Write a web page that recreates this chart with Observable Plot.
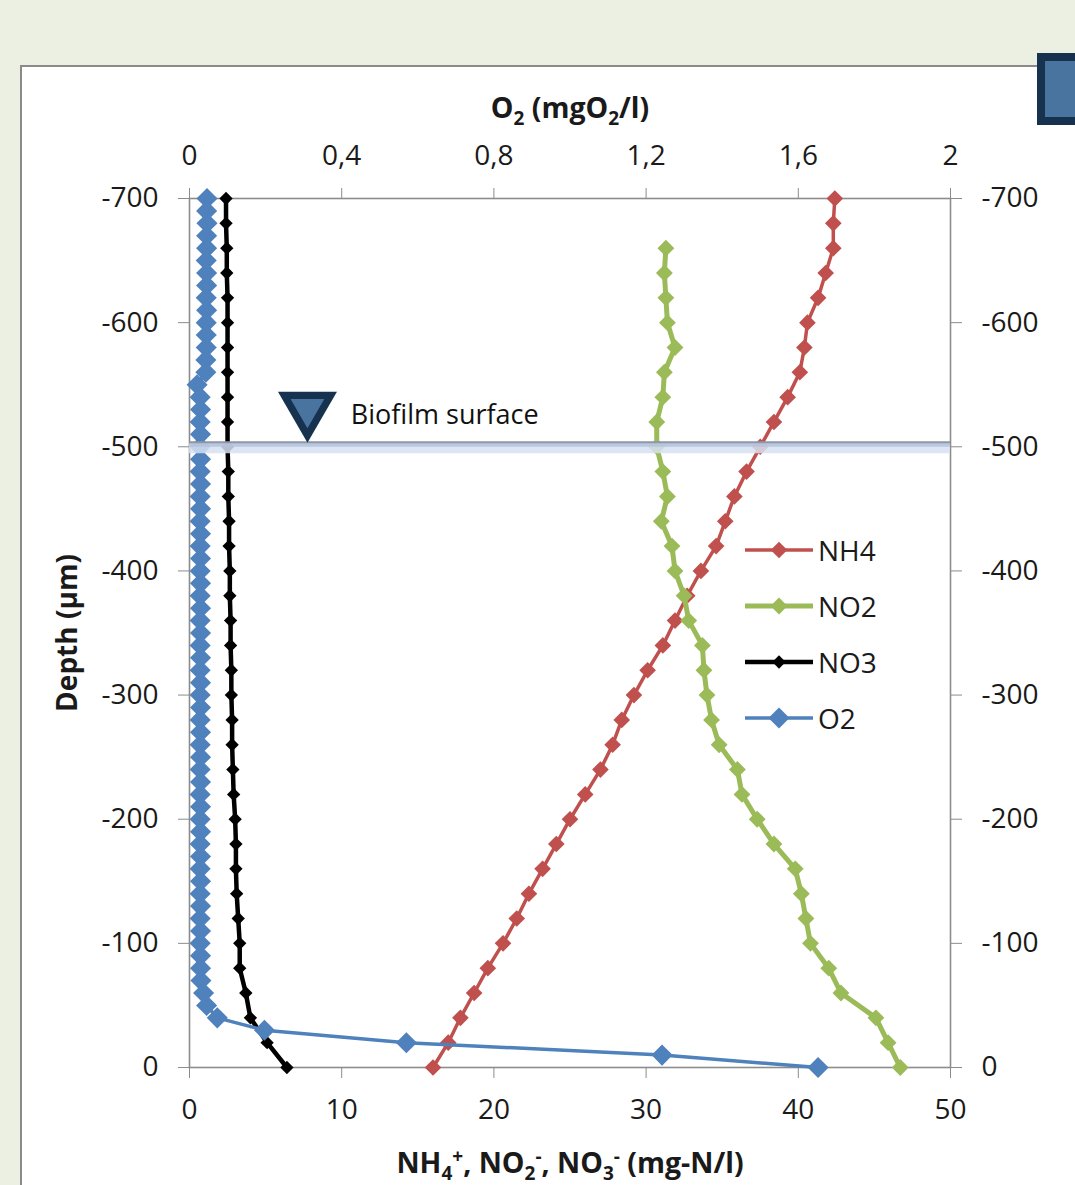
<!DOCTYPE html>
<html>
<head>
<meta charset="utf-8">
<script src="https://cdn.jsdelivr.net/npm/d3@7"></script>
<script src="https://cdn.jsdelivr.net/npm/@observablehq/plot@0.6"></script>
<style>
html,body{margin:0;padding:0;overflow:hidden;background:#ecf0e2;width:1075px;height:1185px;font-family:"Open Sans",sans-serif;}
#panel{position:absolute;left:20px;top:65px;width:1100px;height:1200px;background:#fff;border:2px solid #8a8a8a;box-sizing:border-box;}
#box{position:absolute;left:1037px;top:53px;width:60px;height:72px;background:#4a74a0;border:8px solid #17324f;box-sizing:border-box;}
#chart{position:absolute;left:0;top:0;}
.lg{position:absolute;left:745px;height:40px;display:flex;align-items:center;font-size:28px;color:#1a1a1a;}
.lg svg{display:block;margin-right:3px;}
</style>
</head>
<body>
<div id="panel"></div>
<div id="box"></div>
<div id="chart"></div>
<div id="legend"></div>
<script>
// ---- data ----
const depth20 = [-700,-680,-660,-640,-620,-600,-580,-560,-540,-520,-500,-480,-460,-440,-420,-400,-380,-360,-340,-320,-300,-280,-260,-240,-220,-200,-180,-160,-140,-120,-100,-80,-60,-40,-20,0];
const nh4 = [42.4,42.3,42.3,41.8,41.3,40.6,40.4,40.1,39.3,38.4,37.5,36.6,35.8,35.2,34.6,33.6,32.7,31.9,31.1,30.1,29.2,28.4,27.8,27.0,26.0,25.0,24.1,23.2,22.3,21.5,20.6,19.6,18.7,17.8,17.0,16.0];
const no3 = [2.4,2.4,2.45,2.45,2.5,2.5,2.5,2.5,2.5,2.5,2.5,2.55,2.55,2.6,2.6,2.65,2.65,2.7,2.7,2.75,2.75,2.8,2.8,2.85,2.9,3.0,3.05,3.05,3.1,3.2,3.3,3.3,3.7,4.0,5.1,6.4];
const depthNO2 = [-660,-640,-620,-600,-580,-560,-540,-520,-500,-480,-460,-440,-420,-400,-380,-360,-340,-320,-300,-280,-260,-240,-220,-200,-180,-160,-140,-120,-100,-80,-60,-40,-20,0];
const no2 = [31.3,31.2,31.3,31.4,31.9,31.2,31.1,30.7,30.7,31.1,31.4,31.0,31.7,31.9,32.5,32.8,33.7,33.8,34.0,34.3,34.8,36.0,36.3,37.3,38.4,39.8,40.2,40.5,40.8,42.0,42.8,45.1,45.9,46.7];
const depthO2 = [-700,-690,-680,-670,-660,-650,-640,-630,-620,-610,-600,-590,-580,-570,-560,-550,-540,-530,-520,-510,-500,-490,-480,-470,-460,-450,-440,-430,-420,-410,-400,-390,-380,-370,-360,-350,-340,-330,-320,-310,-300,-290,-280,-270,-260,-250,-240,-230,-220,-210,-200,-190,-180,-170,-160,-150,-140,-130,-120,-110,-100,-90,-80,-70,-60,-50,-40,-30,-20,-10,0];
const o2 = [0.046,0.045,0.046,0.045,0.045,0.044,0.045,0.045,0.044,0.045,0.044,0.044,0.044,0.043,0.043,0.02,
  0.028,0.029,0.028,0.029,0.028,0.029,0.028,0.029,0.028,0.029,0.028,0.029,0.028,0.029,0.028,0.029,0.028,0.029,0.028,0.029,0.028,0.029,0.028,0.029,0.028,0.029,0.028,0.029,0.028,0.029,0.028,0.029,0.028,0.029,0.028,0.029,0.028,0.029,0.028,0.029,0.028,0.029,0.028,0.029,0.028,0.029,0.029,0.030,
  0.037,0.045,0.073,0.197,0.570,1.242,1.652];
const seriesNames = ["NH4","NO2","NO3","O2"];
const seriesColors = ["#c0504d","#9bbb59","#000000","#4f81bd"];
const xTicks = [0,10,20,30,40,50];
const o2TickLabels = ["0","0,4","0,8","1,2","1,6","2"];
const depthTicks = [-700,-600,-500,-400,-300,-200,-100,0];
const surfaceDepth = [-500];
const surfaceLabel = "Biofilm surface";
const surfaceMarkX = 7.75;   // position along the N axis of the triangle mark
const surfaceLabelX = 10.6;
const o2Max = 2, nMax = 50;  // secondary (O2) axis 0..2 maps onto primary 0..50
const yTitle = "Depth (µm)";
const topTitleParts = [["O",""],["2","sub"],[" (mgO",""],["2","sub"],["/l)",""]];
const bottomTitleParts = [["NH",""],["4","sub"],["+","sup"],[", NO",""],["2","sub"],["-","sup"],[", NO",""],["3","sub"],["-","sup"],[" (mg-N/l)",""]];

// ---- build table ----
const rows = [];
depth20.forEach((d,i)=>rows.push({s:"NH4",depth:d,x:nh4[i]}));
depthNO2.forEach((d,i)=>rows.push({s:"NO2",depth:d,x:no2[i]}));
depth20.forEach((d,i)=>rows.push({s:"NO3",depth:d,x:no3[i]}));
depthO2.forEach((d,i)=>rows.push({s:"O2",depth:d,x:o2[i]*nMax/o2Max}));
const style = {
  NH4:{w:3.5,r:7.5},
  NO2:{w:5,r:7.6},
  NO3:{w:4.5,r:6.0},
  O2:{w:3.5,r:9.5}
};
const plain = parts => parts.map(p=>p[0]).join("");

const seriesMarks = seriesNames.flatMap((s,k)=>{
  const data = rows.filter(r=>r.s===s);
  return [
    Plot.line(data,{x:"x",y:"depth",stroke:seriesColors[k],strokeWidth:style[s].w}),
    Plot.dot(data,{x:"x",y:"depth",symbol:"diamond2",r:style[s].r,fill:seriesColors[k],stroke:"none"})
  ];
});

const chart = Plot.plot({
  width:1075, height:1185,
  marginTop:198, marginBottom:118, marginLeft:189, marginRight:125,
  style:{background:"transparent", fontFamily:"Open Sans", overflow:"visible"},
  x:{domain:[0,nMax]},
  y:{domain:[0,-700]},
  marks:[
    Plot.frame({stroke:"#8c8c8c", strokeWidth:1.6}),
    Plot.axisY({anchor:"left", ticks:depthTicks, tickSize:11, tickPadding:20, tickFormat:d=>String(d), fontSize:28, stroke:"#8c8c8c", fill:"#1a1a1a", label:null}),
    Plot.axisY({anchor:"right", ticks:depthTicks, tickSize:11, tickPadding:20, tickFormat:d=>String(d), fontSize:28, stroke:"#8c8c8c", fill:"#1a1a1a", label:null}),
    Plot.axisX({anchor:"bottom", ticks:xTicks, tickSize:11, tickPadding:21, tickFormat:d=>String(d), fontSize:28, stroke:"#8c8c8c", fill:"#1a1a1a", label:null}),
    Plot.axisX({anchor:"top", ticks:xTicks, tickSize:11, tickPadding:23, tickFormat:d=>o2TickLabels[xTicks.indexOf(d)], fontSize:28, stroke:"#8c8c8c", fill:"#1a1a1a", label:null}),
    ...seriesMarks,
    // biofilm surface band
    Plot.ruleY(surfaceDepth,{stroke:"#d6e0f1", strokeWidth:11, strokeOpacity:0.85, dy:1}),
    Plot.ruleY(surfaceDepth,{stroke:"#b3c2dc", strokeWidth:4, strokeOpacity:0.85, dy:-2}),
    Plot.ruleY(surfaceDepth,{stroke:"#8e97a6", strokeWidth:2, dy:-4.5}),
    Plot.dot(surfaceDepth,{x:()=>surfaceMarkX, y:d=>d, symbol:"triangle", rotate:180, r:21.9, fill:"#17324f", stroke:"none", dy:-38}),
    Plot.dot(surfaceDepth,{x:()=>surfaceMarkX, y:d=>d, symbol:"triangle", rotate:180, r:12.5, fill:"#4a74a0", stroke:"none", dy:-38}),
    Plot.text(surfaceDepth,{x:()=>surfaceLabelX, y:d=>d, text:()=>surfaceLabel, textAnchor:"start", fontSize:27, fill:"#111", dy:-31}),
    // axis titles
    Plot.text([yTitle],{frameAnchor:"left", textAnchor:"middle", lineAnchor:"middle", dx:-121, rotate:-90, text:d=>d, fontWeight:"bold", fontSize:28, fill:"#1a1a1a"}),
    Plot.text([plain(topTitleParts)],{frameAnchor:"top", textAnchor:"middle", lineAnchor:"middle", dy:-90, text:d=>d, fontWeight:"bold", fontSize:28.5, fill:"#1a1a1a"}),
    Plot.text([plain(bottomTitleParts)],{frameAnchor:"bottom", textAnchor:"middle", lineAnchor:"middle", dy:96, text:d=>d, fontWeight:"bold", fontSize:28.5, fill:"#1a1a1a"})
  ]
});
document.getElementById("chart").appendChild(chart);

// sub/superscripts in titles
function richify(parts){
  const target = plain(parts);
  d3.select(chart).selectAll("text").filter(function(){return this.textContent===target;}).each(function(){
    const t = d3.select(this);
    t.text(null);
    let cur = 0; // current baseline offset
    parts.forEach(([txt,kind])=>{
      const off = kind==="sub" ? 7 : kind==="sup" ? -10 : 0;
      const ts = t.append("tspan").text(txt).attr("dy", off-cur);
      if (kind) ts.attr("font-size", 19);
      cur = off;
    });
  });
}
richify(topTitleParts);
richify(bottomTitleParts);

// legend
const legendTop = [530,586,642,698];
const lg = document.getElementById("legend");
seriesNames.forEach((s,k)=>{
  const div = document.createElement("div");
  div.className = "lg";
  div.style.top = legendTop[k]+"px";
  const r = style[s].r;
  div.innerHTML = `<svg width="70" height="24"><line x1="0" y1="12" x2="68" y2="12" stroke="${seriesColors[k]}" stroke-width="${style[s].w}"/><path d="${d3.symbol(d3.symbolDiamond2, Math.PI*r*r)()}" transform="translate(34,12)" fill="${seriesColors[k]}"/></svg><span>${s}</span>`;
  lg.appendChild(div);
});
</script>
</body>
</html>
